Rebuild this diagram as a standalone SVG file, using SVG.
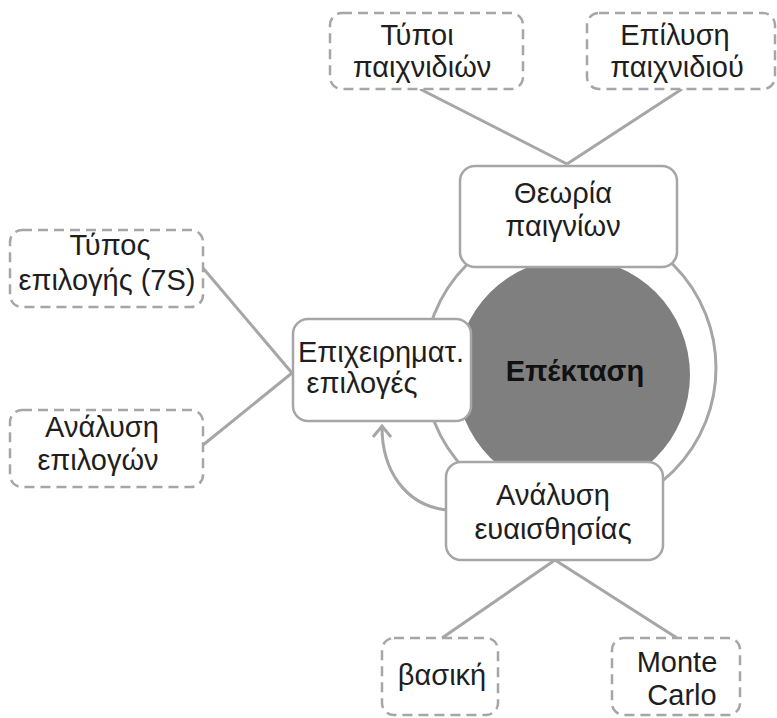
<svg xmlns="http://www.w3.org/2000/svg" width="777" height="718" viewBox="0 0 777 718">
  <defs>
    <style>
      .conn { stroke: #a6a6a6; stroke-width: 3; fill: none; }
      .leaf rect { fill: #ffffff; stroke: #a6a6a6; stroke-width: 2.5; stroke-dasharray: 10 6; }
      .main rect { fill: #ffffff; stroke: #a6a6a6; stroke-width: 2.5; }
      text { font-family: "Liberation Sans", Arial, sans-serif; font-size: 29px; fill: #1e1e1e; text-anchor: middle; }
      .hub-label { font-weight: bold; font-size: 29px; fill: #111111; }
    </style>
    <marker id="arrowOpen" viewBox="0 0 24 24" refX="12" refY="12" markerWidth="24" markerHeight="24" markerUnits="userSpaceOnUse" orient="auto">
      <path d="M2,3 L13,12 L2,21" fill="none" stroke="#a6a6a6" stroke-width="3"/>
    </marker>
  </defs>

  <rect width="777" height="718" fill="#ffffff"/>

  <!-- hub: outer ring and filled core -->
  <g id="hub">
    <circle cx="570" cy="368" r="146" fill="#ffffff" stroke="#a6a6a6" stroke-width="3"/>
    <circle cx="573" cy="375" r="117" fill="#7f7f7f"/>
    <text class="hub-label" x="575" y="381">Επέκταση</text>
  </g>

  <!-- connectors -->
  <g id="connectors">
    <line class="conn" x1="420" y1="89" x2="567" y2="164"/>
    <line class="conn" x1="682" y1="89" x2="567" y2="164"/>
    <line class="conn" x1="203" y1="268" x2="292" y2="373"/>
    <line class="conn" x1="203" y1="445" x2="292" y2="373"/>
    <line class="conn" x1="555" y1="560" x2="442" y2="638"/>
    <line class="conn" x1="555" y1="560" x2="677" y2="638"/>
    <path class="conn" d="M446,510 C405,505 382,470 382,427" marker-end="url(#arrowOpen)"/>
  </g>

  <g id="theory" class="main">
    <rect x="460" y="166" width="217" height="101" rx="15"/>
    <text x="563" y="203">Θεωρία</text>
    <text x="563" y="236">παιγνίων</text>
  </g>

  <g id="business" class="main">
    <rect x="293" y="319" width="178" height="102" rx="15"/>
    <text x="381" y="362">Επιχειρηματ.</text>
    <text x="362" y="393">επιλογές</text>
  </g>

  <g id="sensitivity" class="main">
    <rect x="446" y="462" width="217" height="98" rx="15"/>
    <text x="553" y="505">Ανάλυση</text>
    <text x="553" y="539">ευαισθησίας</text>
  </g>

  <g id="game-types" class="leaf">
    <rect x="330" y="13" width="193" height="76" rx="12"/>
    <text x="417" y="45">Τύποι</text>
    <text x="422" y="77">παιχνιδιών</text>
  </g>

  <g id="game-solution" class="leaf">
    <rect x="587" y="13" width="188" height="76" rx="12"/>
    <text x="675" y="45">Επίλυση</text>
    <text x="677" y="77">παιχνιδιού</text>
  </g>

  <g id="choice-type" class="leaf">
    <rect x="10" y="230" width="193" height="77" rx="12"/>
    <text x="110" y="255">Τύπος</text>
    <text x="107" y="290">επιλογής (7S)</text>
  </g>

  <g id="choice-analysis" class="leaf">
    <rect x="10" y="410" width="193" height="77" rx="12"/>
    <text x="102" y="437">Ανάλυση</text>
    <text x="98" y="470">επιλογών</text>
  </g>

  <g id="basic" class="leaf">
    <rect x="382" y="638" width="116" height="77" rx="12"/>
    <text x="442" y="685">βασική</text>
  </g>

  <g id="monte-carlo" class="leaf">
    <rect x="612" y="638" width="128" height="77" rx="12"/>
    <text x="677" y="672">Monte</text>
    <text x="682" y="705">Carlo</text>
  </g>
</svg>
